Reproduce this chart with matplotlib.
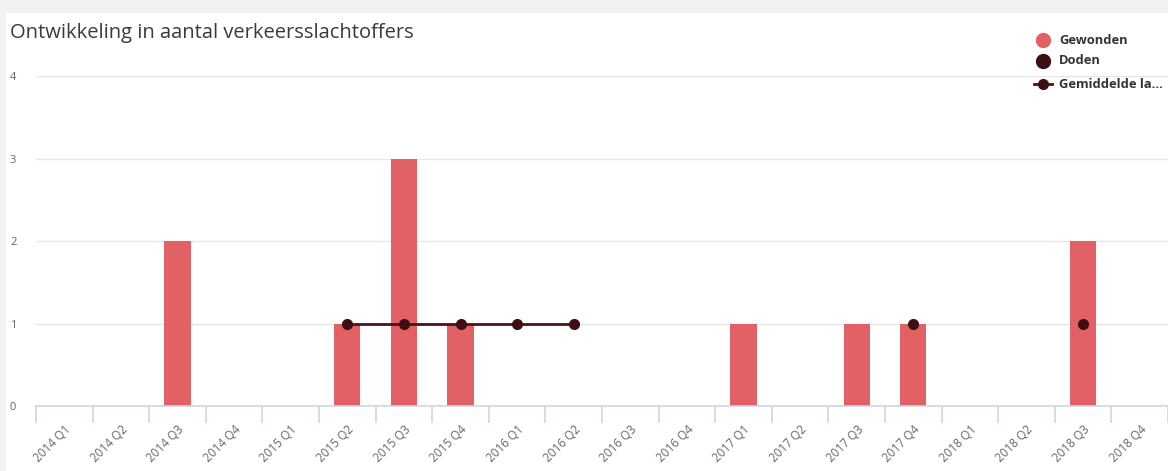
import matplotlib
matplotlib.use("Agg")
import matplotlib.pyplot as plt
from matplotlib.lines import Line2D
from matplotlib.patches import Rectangle
import numpy as np

categories = ["2014 Q1", "2014 Q2", "2014 Q3", "2014 Q4",
              "2015 Q1", "2015 Q2", "2015 Q3", "2015 Q4",
              "2016 Q1", "2016 Q2", "2016 Q3", "2016 Q4",
              "2017 Q1", "2017 Q2", "2017 Q3", "2017 Q4",
              "2018 Q1", "2018 Q2", "2018 Q3", "2018 Q4"]
gewonden = [0, 0, 2, 0, 0, 1, 3, 1, 0, 0, 0, 0, 1, 0, 1, 1, 0, 0, 2, 0]
doden = [None, None, None, None, None, None, None, None, None, None,
         None, None, None, None, None, 1, None, None, 1, None]
gemiddelde = [None, None, None, None, None, 1, 1, 1, 1, 1,
              None, None, None, None, None, None, None, None, None, None]
yticks = [0, 1, 2, 3, 4]
title = "Ontwikkeling in aantal verkeersslachtoffers"
legend_labels = ["Gewonden", "Doden", "Gemiddelde la..."]

W, H = 1168, 471
plt.rcParams['font.family'] = ['Open Sans', 'DejaVu Sans']
fig = plt.figure(figsize=(W / 100, H / 100), dpi=100)
fig.patch.set_facecolor('#f2f2f2')
fig.add_artist(Rectangle((6 / W, 0), 1 - 6 / W, 1 - 13 / H, transform=fig.transFigure,
                         facecolor='white', edgecolor='none', zorder=0))

bar_c = '#e26164'
dark = '#3e0e13'
line_c = '#4b1219'
axis_c = '#ccd6eb'
grid_c = '#e6e6e6'
label_c = '#666666'

left, right, y0, y4 = 36, 1168, 406, 76
ax = fig.add_axes([left / W, (H - y0) / H, (right - left) / W, (y0 - y4) / H])
ax.set_facecolor('none')
x = np.arange(len(categories))
ax.bar(x, gewonden, width=0.46, color=bar_c, zorder=2)
d = np.array([np.nan if v is None else v for v in doden], dtype=float)
g = np.array([np.nan if v is None else v for v in gemiddelde], dtype=float)
ax.plot(x, g, color=line_c, lw=2, marker='o', ms=7, mfc=dark, mec=dark, zorder=3)
ax.plot(x, d, ls='none', marker='o', ms=7, mfc=dark, mec=dark, zorder=4)

ax.set_xlim(-0.5, len(categories) - 0.5)
ax.set_ylim(0, 4)
ax.set_yticks(yticks)
ax.grid(axis='y', color=grid_c, lw=1, zorder=0)
ax.set_axisbelow(True)
for s in ['top', 'right', 'left']:
    ax.spines[s].set_visible(False)
ax.spines['bottom'].set_color(axis_c)
ax.spines['bottom'].set_linewidth(1.2)
ax.tick_params(axis='y', length=0, labelsize=8, labelcolor=label_c, pad=0)
for lab in ax.get_yticklabels():
    lab.set_horizontalalignment('left')
    lab.set_x(-(left - 10) / (right - left))
ax.set_xticks(x)
ax.set_xticklabels(categories, rotation=45, ha='right', va='top',
                   rotation_mode='anchor', fontsize=8.5, color=label_c)
ax.tick_params(axis='x', which='major', length=0, pad=12)
ax.set_xticks(np.arange(len(categories) + 1) - 0.5, minor=True)
ax.tick_params(axis='x', which='minor', length=12, color=axis_c, width=1.2)

fig.text(10 / W, 1 - 33 / H, title, fontsize=14.5, color='#3a3a3a', va='center', ha='left')

# legend
lx, tx = 1043, 1059
rows = [40, 61, 84]
fig.add_artist(Line2D([lx / W], [1 - rows[0] / H], marker='o', ms=10, color=bar_c,
                      ls='none', transform=fig.transFigure))
fig.add_artist(Line2D([lx / W], [1 - rows[1] / H], marker='o', ms=10, color=dark,
                      ls='none', transform=fig.transFigure))
fig.add_artist(Line2D([(lx - 9) / W, (lx + 9) / W], [1 - rows[2] / H] * 2, color=line_c, lw=2,
                      transform=fig.transFigure))
fig.add_artist(Line2D([lx / W], [1 - rows[2] / H], marker='o', ms=7, color=dark,
                      ls='none', transform=fig.transFigure))
for lbl, r in zip(legend_labels, rows):
    fig.text(tx / W, 1 - r / H, lbl, fontsize=9.3, fontweight='bold', color='#333333',
             va='center', ha='left')

fig.savefig('out.png', dpi=100, facecolor=fig.get_facecolor())
